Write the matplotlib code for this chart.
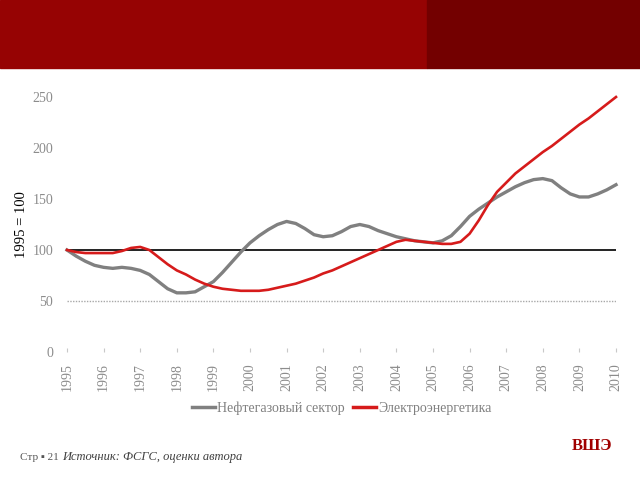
import matplotlib
matplotlib.use("Agg")
import matplotlib.pyplot as plt
from matplotlib.lines import Line2D
import numpy as np

years = [1995, 1996, 1997, 1998, 1999, 2000, 2001, 2002, 2003, 2004, 2005, 2006, 2007, 2008, 2009, 2010]
year_labels = [str(y) for y in years]

# quarterly values, 1995Q1 .. 2010Q1
oil_gas = [100, 94, 89, 85, 83, 82, 83, 82, 80, 76, 69, 62, 58, 58, 59, 64,
           69, 78, 88, 98, 107, 114, 120, 125, 128, 126, 121, 115, 113, 114, 118, 123,
           125, 123, 119, 116, 113, 111, 109, 108, 107, 109, 114, 123, 133, 140, 146, 152,
           157, 162, 166, 169, 170, 168, 161, 155, 152, 152, 155, 159, 164]
power = [100, 98, 97, 97, 97, 97, 99, 102, 103, 100, 93, 86, 80, 76, 71, 67,
         64, 62, 61, 60, 60, 60, 61, 63, 65, 67, 70, 73, 77, 80, 84, 88,
         92, 96, 100, 104, 108, 110, 109, 108, 107, 106, 106, 108, 116, 129, 144, 157,
         166, 175, 182, 189, 196, 202, 209, 216, 223, 229, 236, 243, 250]
t = [1995 + q / 4 for q in range(len(oil_gas))]

serif = ["Liberation Serif", "DejaVu Serif"]
plt.rcParams['font.family'] = serif

fig = plt.figure(figsize=(6.4, 4.8), dpi=100)

# header banner
fig.patches.append(plt.Rectangle((0, 1 - 68/480), 427/640, 68/480,
                                 transform=fig.transFigure, color="#960303", zorder=0))
fig.patches.append(plt.Rectangle((427/640, 1 - 68/480), 1 - 427/640, 68/480,
                                 transform=fig.transFigure, color="#730000", zorder=0))

ax = fig.add_axes([67/640, 128/480, 549/640, 255/480])
ax.set_xlim(1995, 2010)
ax.set_ylim(0, 250)
for s in ax.spines.values():
    s.set_visible(False)

ax.plot([1995, 2010], [50, 50], color="#a8a8a8", lw=1, ls=(0, (1, 1)), zorder=1)
ax.plot([1995, 2010], [100, 100], color="#111111", lw=1.3, zorder=2)

ax.plot(t, oil_gas, color="#808080", lw=2.4, zorder=3, clip_on=False)
ax.plot(t, power, color="#d61b1b", lw=1.9, zorder=4, clip_on=False)

ax.set_yticks([0, 50, 100, 150, 200, 250])
ax.set_xticks(years)
ax.set_xticklabels(year_labels, rotation=90)
ax.tick_params(axis="y", length=0, pad=10, labelsize=10, labelcolor="#8c8c8c")
ax.tick_params(axis="x", length=3, width=0.8, color="#c8c8c8", pad=8, labelsize=10,
               labelcolor="#8c8c8c", direction="in")
ax.set_ylabel("1995 = 100", fontsize=10.5, color="black")
ax.yaxis.set_label_coords(-0.071, 0.5)

handles = [Line2D([], [], color="#808080", lw=2.5), Line2D([], [], color="#d61b1b", lw=2.5)]
leg = fig.legend(handles, ["Нефтегазовый сектор", "Электроэнергетика"], loc="center",
                 bbox_to_anchor=(342/640, 1 - 408/480), ncol=2, frameon=False,
                 fontsize=10, handlelength=1.6, handletextpad=0.2, columnspacing=0.6,
                 labelcolor="#808080")

fig.text(20/640, 1 - 458/480, "Стр ▪ 21", fontsize=8, color="#555555", va="center",
         family=["Liberation Serif", "DejaVu Sans"])
fig.text(62/640, 1 - 457/480, "Источник: ФСГС, оценки автора", fontsize=9, style="italic",
         color="#404040", va="center")
fig.text(612/640, 1 - 446/480, "ВШЭ", fontsize=12, fontweight="bold", color="#a00000",
         ha="right", va="center")

fig.savefig("out.png", dpi=100)
